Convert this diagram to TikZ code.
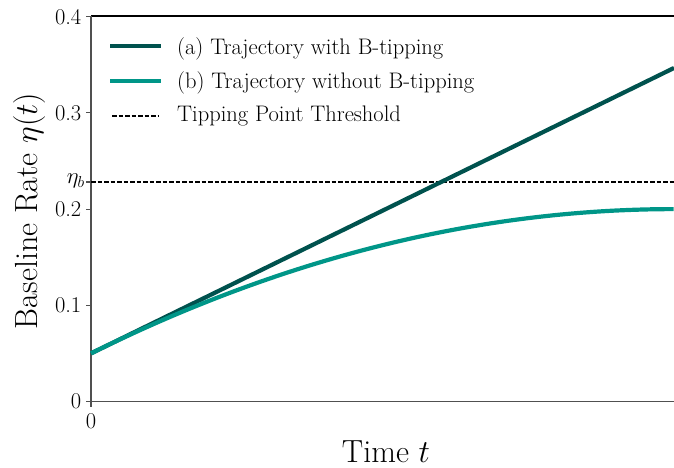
\documentclass[tikz,border=0pt]{standalone}
\usepackage{fix-cm}
\definecolor{tealdark}{RGB}{0,82,78}
\definecolor{teallight}{RGB}{0,150,136}
\definecolor{spinegray}{RGB}{80,80,80}
\tikzset{
  ticklab/.style={inner sep=0pt, font=\fontsize{22.5}{27}\selectfont},
  axlab/.style={inner sep=0pt, font=\fontsize{32}{38}\selectfont},
  legtext/.style={inner sep=0pt, anchor=base west, font=\fontsize{22.5}{27}\selectfont},
  spine/.style={line width=1.2pt, color=spinegray},
  tickmark/.style={line width=1.1pt, color=spinegray},
  curvea/.style={line width=4.2pt, color=tealdark},
  curveb/.style={line width=4.2pt, color=teallight},
  threshold/.style={line width=1.2pt, black, dash pattern=on 4.5pt off 2pt},
}
\begin{document}
\begin{tikzpicture}[x=1pt, y=-1pt]
\useasboundingbox (0,0) rectangle (674,468);

% axes frame
\coordinate (o) at (91,401.5);
\coordinate (ytop) at (91,16);
\coordinate (xend) at (674,401.5);
\coordinate (tend) at (674,16);
\draw[line width=1.3pt, black] (ytop) -- (tend);
\draw[spine] (ytop) -- (o) -- (xend);

% y ticks: value v sits at 401.5 - 962 v
\foreach \v/\lab in {0/0, 0.1/0.1, 0.2/0.2, 0.3/0.3, 0.4/0.4} {
  \draw[tickmark] (86,{401.5-962*\v}) -- (91,{401.5-962*\v});
  \node[ticklab, anchor=east] at (81.5,{401.5-962*\v}) {\lab};
}
\draw[tickmark] (86,182) -- (91,182);
\node[ticklab, anchor=east] (etab) at (85,181) {$\eta_b$};

% x tick
\draw[tickmark] (o) -- (91,406.5);
\node[ticklab, anchor=north] (x0) at (91,413) {0};

% axis labels
\node[axlab, anchor=base] (xlab) at (386,462.5) {Time $t$};
\node[axlab, anchor=base, rotate=90] (ylab) at (37,211) {Baseline Rate $\eta(t)$};

% threshold
\coordinate (thl) at (91,182);
\coordinate (thr) at (674,182);
\draw[threshold] (thl) -- (thr);

% trajectories
\draw[curvea] (91,{401.5-962*0.05}) -- (674,{401.5-962*0.3467});
\draw[curveb] plot[domain=0:1, samples=80, smooth]
  ({91+583*\x},{401.5-962*(0.05+0.15*(2*\x-\x*\x))});

% legend
\coordinate (la1) at (110,46);  \coordinate (la2) at (161,46);
\coordinate (lb1) at (110,81);  \coordinate (lb2) at (161,81);
\coordinate (lc1) at (112,116); \coordinate (lc2) at (159,116);
\draw[curvea, line width=4pt] (la1) -- (la2);
\draw[curveb, line width=4pt] (lb1) -- (lb2);
\draw[threshold] (lc1) -- (lc2);
\node[legtext] (ta) at (177,54.3) {(a) Trajectory with B-tipping};
\node[legtext] (tb) at (177,89) {(b) Trajectory without B-tipping};
\node[legtext] (tc) at (177,121.7) {Tipping Point Threshold};
\end{tikzpicture}
\end{document}
